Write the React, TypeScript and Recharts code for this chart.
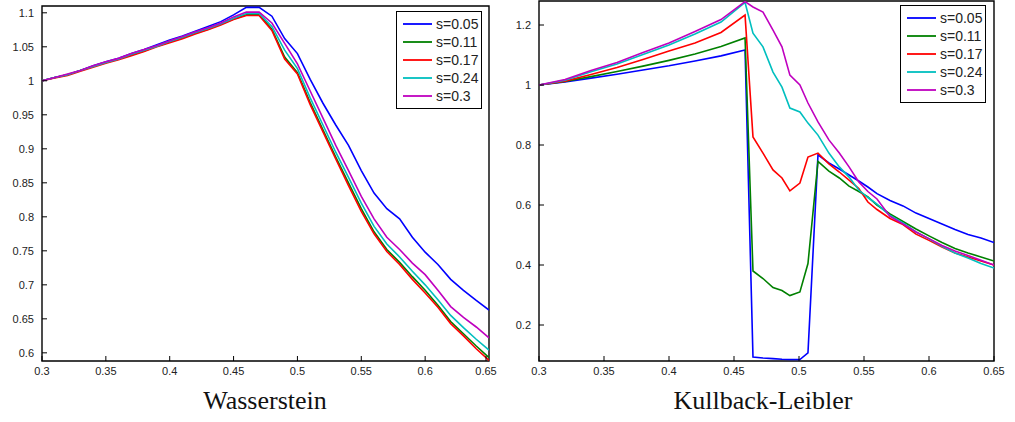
import { LineChart, Line, XAxis, YAxis, Legend, ReferenceArea } from "recharts";

// legend labels and line colours (matlab defaults)
const NAMES = ["s=0.05", "s=0.11", "s=0.17", "s=0.24", "s=0.3"];
const COLORS = ["#0000ff", "#008000", "#ff0000", "#00bfbf", "#bf00bf"];
const KEYS = ["a", "b", "c", "d", "e"];

const X_TICKS = [0.3, 0.35, 0.4, 0.45, 0.5, 0.55, 0.6, 0.65];

// Wasserstein panel
const W_X = [0.3, 0.31, 0.32, 0.33, 0.34, 0.35, 0.36, 0.37, 0.38, 0.39, 0.4, 0.41, 0.42, 0.43, 0.44, 0.45, 0.46, 0.47, 0.48, 0.49, 0.5, 0.51, 0.52, 0.53, 0.54, 0.55, 0.56, 0.57, 0.58, 0.59, 0.6, 0.61, 0.62, 0.63, 0.64, 0.65];
const W_S005 = [1.0, 1.005, 1.009, 1.015, 1.022, 1.028, 1.033, 1.04, 1.046, 1.053, 1.06, 1.066, 1.073, 1.08, 1.087, 1.097, 1.108, 1.108, 1.095, 1.062, 1.04, 1.002, 0.967, 0.935, 0.905, 0.868, 0.835, 0.812, 0.797, 0.77, 0.748, 0.73, 0.708, 0.692, 0.677, 0.663];
const W_S011 = [1.0, 1.005, 1.009, 1.015, 1.021, 1.027, 1.032, 1.038, 1.044, 1.051, 1.057, 1.063, 1.07, 1.076, 1.083, 1.091, 1.097, 1.097, 1.076, 1.035, 1.012, 0.968, 0.928, 0.888, 0.85, 0.812, 0.778, 0.752, 0.733, 0.712, 0.692, 0.67, 0.646, 0.628, 0.61, 0.593];
const W_S017 = [1.0, 1.004, 1.008, 1.014, 1.02, 1.026, 1.031, 1.037, 1.043, 1.05, 1.056, 1.062, 1.069, 1.075, 1.082, 1.09, 1.096, 1.096, 1.074, 1.032, 1.01, 0.965, 0.925, 0.885, 0.846, 0.808, 0.775, 0.749, 0.73, 0.708, 0.688, 0.667, 0.643, 0.625, 0.606, 0.589];
const W_S024 = [1.0, 1.005, 1.009, 1.015, 1.021, 1.027, 1.032, 1.039, 1.045, 1.051, 1.058, 1.064, 1.071, 1.077, 1.084, 1.092, 1.099, 1.099, 1.08, 1.045, 1.018, 0.975, 0.935, 0.895, 0.858, 0.82, 0.786, 0.76, 0.741, 0.72, 0.7, 0.678, 0.655, 0.637, 0.62, 0.604];
const W_S030 = [1.0, 1.005, 1.01, 1.015, 1.022, 1.028, 1.033, 1.04, 1.046, 1.052, 1.059, 1.065, 1.072, 1.078, 1.085, 1.094, 1.101, 1.101, 1.085, 1.055, 1.025, 0.985, 0.945, 0.905, 0.868, 0.83, 0.797, 0.77, 0.752, 0.732, 0.715, 0.692, 0.668, 0.652, 0.638, 0.622];
const W_Y_TICKS = [0.6, 0.65, 0.7, 0.75, 0.8, 0.85, 0.9, 0.95, 1, 1.05, 1.1];

// Kullback-Leibler panel
const K_X = [0.3, 0.32, 0.34, 0.36, 0.38, 0.4, 0.42, 0.44, 0.4585, 0.4646, 0.4723, 0.48, 0.4869, 0.493, 0.5007, 0.5069, 0.5146, 0.523, 0.531, 0.5385, 0.546, 0.553, 0.56, 0.57, 0.58, 0.59, 0.6, 0.61, 0.62, 0.63, 0.64, 0.65];
const K_S005 = [1.0, 1.01, 1.023, 1.036, 1.05, 1.064, 1.08, 1.097, 1.117, 0.093, 0.09, 0.088, 0.086, 0.085, 0.085, 0.107, 0.767, 0.74, 0.72, 0.7, 0.68, 0.66, 0.638, 0.615, 0.597, 0.573, 0.555, 0.537, 0.518, 0.502, 0.49, 0.475];
const K_S011 = [1.0, 1.012, 1.028, 1.045, 1.063, 1.082, 1.103, 1.128, 1.157, 0.38, 0.355, 0.325, 0.315, 0.298, 0.31, 0.405, 0.745, 0.713, 0.69, 0.663, 0.645, 0.627, 0.6, 0.57, 0.545, 0.52, 0.497, 0.475, 0.455, 0.44, 0.427, 0.413];
const K_S017 = [1.0, 1.013, 1.035, 1.058, 1.085, 1.113, 1.14, 1.175, 1.233, 0.827, 0.773, 0.717, 0.69, 0.647, 0.673, 0.76, 0.773, 0.737, 0.71, 0.683, 0.655, 0.61, 0.585, 0.555, 0.535, 0.503, 0.482, 0.46, 0.44, 0.427, 0.413, 0.4];
const K_S024 = [1.0, 1.016, 1.044, 1.07, 1.102, 1.133, 1.17, 1.21, 1.275, 1.173, 1.127, 1.043, 0.993, 0.923, 0.91, 0.873, 0.833, 0.773, 0.727, 0.693, 0.65, 0.625, 0.603, 0.565, 0.54, 0.51, 0.487, 0.462, 0.44, 0.423, 0.405, 0.39];
const K_S030 = [1.0, 1.018, 1.048, 1.075, 1.108, 1.14, 1.178, 1.218, 1.278, 1.26, 1.243, 1.183, 1.127, 1.033, 1.0, 0.94, 0.877, 0.817, 0.773, 0.727, 0.677, 0.645, 0.62, 0.562, 0.537, 0.51, 0.488, 0.465, 0.447, 0.432, 0.416, 0.4];
const K_Y_TICKS = [0.2, 0.4, 0.6, 0.8, 1, 1.2];

const buildRows = (xs: number[], series: number[][]) =>
  xs.map((x, i) => {
    const row: Record<string, number> = { x };
    series.forEach((s, j) => (row[KEYS[j]] = s[i]));
    return row;
  });

const wData = buildRows(W_X, [W_S005, W_S011, W_S017, W_S024, W_S030]);
const kData = buildRows(K_X, [K_S005, K_S011, K_S017, K_S024, K_S030]);

const fmt = (v: number) => String(Number(v.toFixed(2)));
const FONT = "Liberation Sans, Arial, sans-serif";
const TICK_LEN = 5;

// matlab style ticks: short marks pointing into the plot, label outside
const BottomTick = (p: any) => (
  <g>
    <line x1={p.x} x2={p.x} y1={p.y - 6} y2={p.y - 6 - TICK_LEN} stroke="#000" />
    <text x={p.x} y={p.y} dy="0.71em" textAnchor="middle" fontSize={11} fontFamily={FONT} fill="#222">{fmt(p.payload.value)}</text>
  </g>
);
const LeftTick = (p: any) => (
  <g>
    <line x1={p.x + 8} x2={p.x + 8 + TICK_LEN} y1={p.y} y2={p.y} stroke="#000" />
    <text x={p.x} y={p.y} dy="0.355em" textAnchor="end" fontSize={11} fontFamily={FONT} fill="#222">{fmt(p.payload.value)}</text>
  </g>
);
const TopTick = (p: any) => <line x1={p.x} x2={p.x} y1={p.y} y2={p.y + TICK_LEN} stroke="#000" />;
const RightTick = (p: any) => <line x1={p.x} x2={p.x - TICK_LEN} y1={p.y} y2={p.y} stroke="#000" />;

function LegendBox() {
  return (
    <div style={{ border: "1.5px solid #000", background: "#fff", padding: "3px 3px 3px 6px", fontFamily: FONT, fontSize: 14, color: "#222" }}>
      {NAMES.map((n, i) => (
        <div key={n} style={{ display: "flex", alignItems: "center", height: 18 }}>
          <svg width={29} height={4}>
            <line x1={0} x2={29} y1={2} y2={2} stroke={COLORS[i]} strokeWidth={1.8} />
          </svg>
          <span style={{ marginLeft: 4 }}>{n}</span>
        </div>
      ))}
    </div>
  );
}

type PanelProps = {
  data: Record<string, number>[];
  yDomain: [number, number];
  yTicks: number[];
  width: number;
  margin: { top: number; right: number; bottom: number; left: number };
  legendLeft: number;
  legendTop: number;
};

function Panel({ data, yDomain, yTicks, width, margin, legendLeft, legendTop }: PanelProps) {
  return (
    <LineChart width={width} height={385} data={data} margin={margin}>
      <XAxis dataKey="x" type="number" domain={[0.3, 0.65]} ticks={X_TICKS} allowDataOverflow
        axisLine={false} tickLine={false} tickSize={0} tickMargin={6} height={20} tick={BottomTick} />
      <XAxis xAxisId="top" orientation="top" type="number" domain={[0.3, 0.65]} ticks={X_TICKS} allowDataOverflow
        axisLine={false} tickLine={false} tickSize={0} tickMargin={0} height={0} tick={TopTick} />
      <YAxis type="number" domain={yDomain} ticks={yTicks} allowDataOverflow
        axisLine={false} tickLine={false} tickSize={0} tickMargin={8} width={40} tick={LeftTick} />
      <YAxis yAxisId="right" orientation="right" type="number" domain={yDomain} ticks={yTicks} allowDataOverflow
        axisLine={false} tickLine={false} tickSize={0} tickMargin={0} width={0} tick={RightTick} />
      <ReferenceArea x1={0.3} x2={0.65} y1={yDomain[0]} y2={yDomain[1]} fill="none" stroke="#000" strokeWidth={1.4} fillOpacity={0} ifOverflow="visible" />
      <Legend layout="horizontal" verticalAlign="middle" align="center" content={() => <LegendBox />}
        wrapperStyle={{ left: legendLeft, top: legendTop, width: "auto" }} />
      {KEYS.map((k, i) => (
        <Line key={k} dataKey={k} name={NAMES[i]} stroke={COLORS[i]} strokeWidth={1.6} dot={false} type="linear" isAnimationActive={false} />
      ))}
    </LineChart>
  );
}

const titleStyle = { position: "absolute" as const, fontFamily: "Liberation Serif, Times New Roman, serif", fontSize: 26, color: "#111", textAlign: "center" as const, width: 400 };

export default function App() {
  return (
    <div style={{ position: "absolute", left: 0, top: 0, width: 1015, height: 422, background: "#fff", overflow: "hidden" }}>
      <div style={{ position: "absolute", left: 0, top: 0 }}>
        <Panel data={wData} yDomain={[0.588, 1.11]} yTicks={W_Y_TICKS} width={500}
          margin={{ top: 6, right: 11, bottom: 4, left: 2 }} legendLeft={396} legendTop={11} />
      </div>
      <div style={{ position: "absolute", left: 499, top: 0 }}>
        <Panel data={kData} yDomain={[0.08, 1.28]} yTicks={K_Y_TICKS} width={510}
          margin={{ top: 1, right: 15, bottom: 4, left: 0 }} legendLeft={401} legendTop={5} />
      </div>
      <div style={{ ...titleStyle, left: 65, top: 386 }}>Wasserstein</div>
      <div style={{ ...titleStyle, left: 563, top: 386 }}>Kullback-Leibler</div>
    </div>
  );
}
